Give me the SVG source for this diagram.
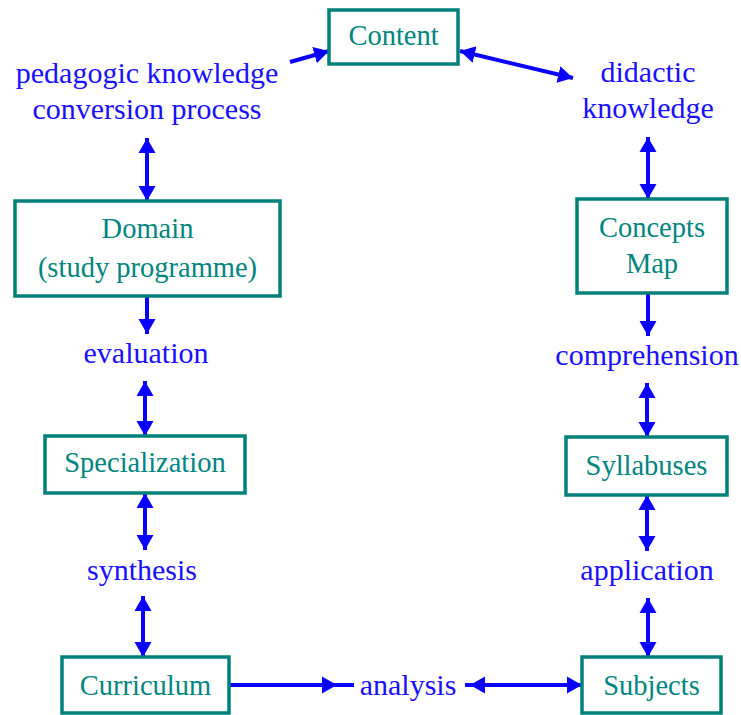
<svg xmlns="http://www.w3.org/2000/svg" width="741" height="715" viewBox="0 0 741 715">
  <style>
    .nbox { fill: #ffffff; stroke: #00807a; stroke-width: 3.5; }
    .ntext { font-family: 'Liberation Serif', 'Times New Roman', serif; font-size: 28.5px; fill: #00857f; text-anchor: middle; }
    .ptext { font-family: 'Liberation Serif', 'Times New Roman', serif; font-size: 30px; fill: #1a10ff; text-anchor: middle; }
    .link { stroke: #0a00ff; stroke-width: 4; fill: none; }
  </style>
  <defs>
    <marker id="head" markerUnits="userSpaceOnUse" markerWidth="18" markerHeight="20" refX="15" refY="10" orient="auto-start-reverse">
      <path d="M0,1.5 L15,10 L0,18.5 z" fill="#0a00ff"/>
    </marker>
  </defs>

  <rect width="741" height="715" fill="#ffffff"/>

  <!-- connectors -->
  <g id="links">
    <line class="link" x1="290" y1="62" x2="329" y2="51" marker-end="url(#head)"/>
    <line class="link" x1="460" y1="51" x2="573" y2="78" marker-start="url(#head)" marker-end="url(#head)"/>
    <line class="link" x1="147" y1="138" x2="147" y2="201" marker-start="url(#head)" marker-end="url(#head)"/>
    <line class="link" x1="147" y1="296" x2="147" y2="334" marker-end="url(#head)"/>
    <line class="link" x1="145" y1="381" x2="145" y2="436" marker-start="url(#head)" marker-end="url(#head)"/>
    <line class="link" x1="145" y1="493" x2="145" y2="550" marker-start="url(#head)" marker-end="url(#head)"/>
    <line class="link" x1="143" y1="596" x2="143" y2="657" marker-start="url(#head)" marker-end="url(#head)"/>
    <line class="link" x1="229" y1="685" x2="337" y2="685" marker-end="url(#head)"/>
    <line class="link" x1="330" y1="685" x2="354" y2="685"/>
    <line class="link" x1="465" y1="685" x2="472" y2="685"/>
    <line class="link" x1="470" y1="685" x2="582" y2="685" marker-start="url(#head)" marker-end="url(#head)"/>
    <line class="link" x1="648" y1="137" x2="648" y2="199" marker-start="url(#head)" marker-end="url(#head)"/>
    <line class="link" x1="648" y1="293" x2="648" y2="336" marker-end="url(#head)"/>
    <line class="link" x1="647" y1="383" x2="647" y2="437" marker-start="url(#head)" marker-end="url(#head)"/>
    <line class="link" x1="647" y1="495" x2="647" y2="551" marker-start="url(#head)" marker-end="url(#head)"/>
    <line class="link" x1="648" y1="598" x2="648" y2="657" marker-start="url(#head)" marker-end="url(#head)"/>
  </g>

  <!-- nodes -->
  <g id="node-content">
    <rect class="nbox" x="329" y="10" width="129" height="54"/>
    <text class="ntext" x="393.5" y="45">Content</text>
  </g>
  <g id="node-domain">
    <rect class="nbox" x="15" y="201" width="265" height="95"/>
    <text class="ntext" x="147.5" y="238">Domain</text>
    <text class="ntext" x="147.5" y="277">(study programme)</text>
  </g>
  <g id="node-concepts-map">
    <rect class="nbox" x="577" y="199" width="150" height="94"/>
    <text class="ntext" x="652" y="237">Concepts</text>
    <text class="ntext" x="652" y="273">Map</text>
  </g>
  <g id="node-specialization">
    <rect class="nbox" x="45" y="436" width="200" height="57"/>
    <text class="ntext" x="145" y="472">Specialization</text>
  </g>
  <g id="node-syllabuses">
    <rect class="nbox" x="566" y="437" width="161" height="58"/>
    <text class="ntext" x="646.5" y="475">Syllabuses</text>
  </g>
  <g id="node-curriculum">
    <rect class="nbox" x="62" y="657" width="167" height="56"/>
    <text class="ntext" x="145.5" y="695">Curriculum</text>
  </g>
  <g id="node-subjects">
    <rect class="nbox" x="582" y="657" width="139" height="56"/>
    <text class="ntext" x="651.5" y="695">Subjects</text>
  </g>

  <!-- process labels -->
  <g id="label-pedagogic">
    <text class="ptext" x="147" y="83">pedagogic knowledge</text>
    <text class="ptext" x="147" y="119">conversion process</text>
  </g>
  <g id="label-didactic">
    <text class="ptext" x="648" y="82">didactic</text>
    <text class="ptext" x="648" y="118">knowledge</text>
  </g>
  <g id="label-evaluation"><text class="ptext" x="146" y="363">evaluation</text></g>
  <g id="label-comprehension"><text class="ptext" x="647" y="365">comprehension</text></g>
  <g id="label-synthesis"><text class="ptext" x="142" y="580">synthesis</text></g>
  <g id="label-application"><text class="ptext" x="647" y="580">application</text></g>
  <g id="label-analysis"><text class="ptext" x="408" y="695">analysis</text></g>
</svg>
